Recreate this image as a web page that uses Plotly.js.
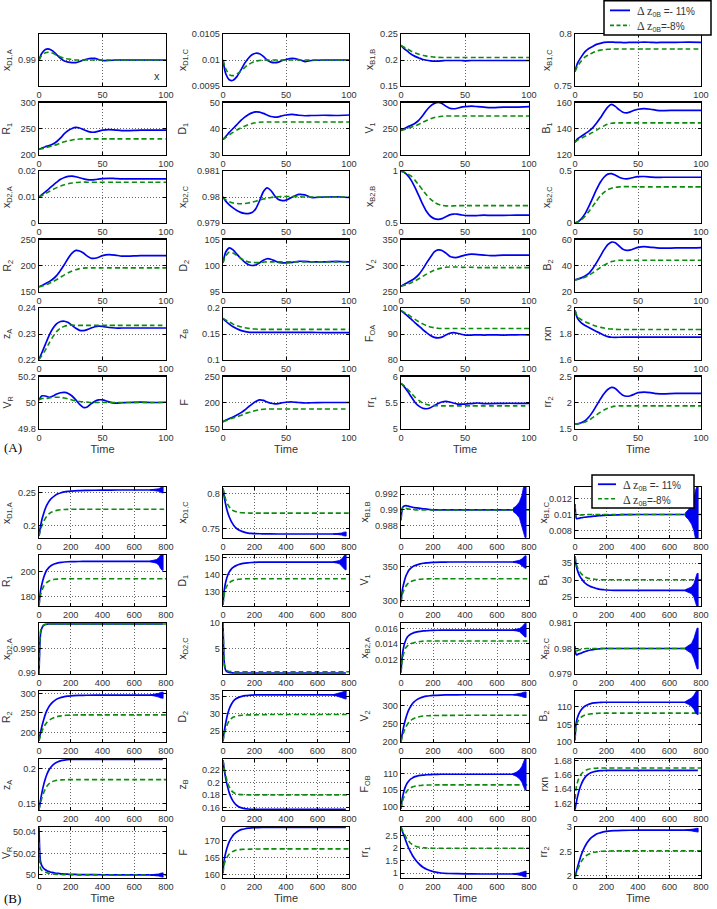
<!DOCTYPE html>
<html><head><meta charset="utf-8">
<script src="https://cdn.plot.ly/plotly-3.0.1.min.js"></script>
<style>html,body{margin:0;padding:0;background:#fff}#chart{width:717px;height:909px}</style>
</head><body><div id="chart"></div>
<script>
// ---------------- time axes ----------------
const tA = [0,2,5,8,11,14,17,20,23,26,29,32,35,38,41,44,47,50,55,60,65,70,80,90,100];
const tB = [0,5,10,20,30,40,50,60,70,80,100,120,140,160,180,200,250,300,400,500,600,700,780,800];
const tTail = [700,720,740,755,765,775,782];
const xTicksA = [0,50,100];
const xTicksB = [0,200,400,600,800];

// ---------------- panel A (dz0B = -11% blue, -8% green) ----------------
const aXD1A_b = [0.9900,0.9912,0.9920,0.9921,0.9917,0.9910,0.9903,0.9898,0.9896,0.9895,0.9895,0.9897,0.9900,0.9902,0.9903,0.9903,0.9901,0.9899,0.9899,0.9900,0.9900,0.9900,0.9900,0.9900,0.9900];
const aXD1A_g = [0.9900,0.9908,0.9914,0.9915,0.9913,0.9909,0.9906,0.9903,0.9902,0.9901,0.9900,0.9900,0.9900,0.9900,0.9900,0.9900,0.9900,0.9900,0.9900,0.9900,0.9900,0.9900,0.9900,0.9900,0.9900];
const aXD1C_b = [0.01,0.00975,0.00962,0.00961,0.00968,0.0098,0.00993,0.01003,0.0101,0.01013,0.01012,0.01007,0.01,0.00996,0.00995,0.00996,0.00999,0.01001,0.01003,0.01001,0.00997,0.00999,0.01,0.01,0.01];
const aXD1C_g = [0.01,0.00984,0.00972,0.0097,0.00973,0.00978,0.00985,0.00991,0.00995,0.00998,0.00999,0.01,0.01,0.01,0.01,0.01,0.01,0.01,0.01,0.01,0.01,0.01,0.01,0.01,0.01];
const aXB1B_b = [0.228,0.223,0.217,0.211,0.207,0.204,0.201,0.1995,0.1985,0.198,0.198,0.1985,0.199,0.199,0.199,0.199,0.199,0.1985,0.199,0.199,0.199,0.199,0.199,0.199,0.199];
const aXB1B_g = [0.228,0.225,0.221,0.217,0.214,0.211,0.209,0.2075,0.2065,0.2055,0.205,0.2048,0.2048,0.2048,0.2048,0.2048,0.2048,0.2048,0.2048,0.2048,0.2048,0.2048,0.2048,0.2048,0.2048];
const aXB1C_b = [0.764,0.772,0.778,0.783,0.786,0.788,0.79,0.791,0.792,0.7922,0.7922,0.792,0.792,0.7918,0.7918,0.792,0.792,0.792,0.7922,0.792,0.7918,0.792,0.792,0.7922,0.792];
const aXB1C_g = [0.764,0.769,0.774,0.778,0.78,0.782,0.7835,0.7845,0.785,0.7853,0.7855,0.7856,0.7856,0.7856,0.7856,0.7856,0.7856,0.7856,0.7856,0.7856,0.7856,0.7856,0.7856,0.7856,0.7856];
const aR1_b = [210,212,215,217,220,225,232,240,246,250,252,251,248,245,243,243,245,247,248,247,246,246,247,247,247];
const aR1_g = [210,211,213,215,217,219,222,224.5,226.5,228,229,229.7,230,230,230,230,230,230,230,230,230,230,230,230,230];
const aD1_b = [35.8,36.8,38.5,40,41.5,43,44.3,45.3,46,46.4,46.3,45.8,45.2,44.6,44.4,44.5,44.9,45.2,45.4,45.1,44.9,45,45.1,45,45.2];
const aD1_g = [35.8,36.5,37.5,38.5,39.4,40.2,40.9,41.5,41.9,42.2,42.4,42.5,42.5,42.5,42.5,42.5,42.5,42.5,42.5,42.5,42.5,42.5,42.5,42.5,42.5];
const aV1_b = [246,249,253,256,260,266,275,285,293,298,300,298,293,289,288,289,291,292,293,292,291,290,291,291,292];
const aV1_g = [246,247.5,250,252.5,255,258,262,265.5,268.5,271,272.5,273.5,274,274,274,274,274,274,274,274,274,274,274,274,274];
const aB1_b = [129.5,132,134,136,138,140.5,144,148,152.5,156.5,158.5,157,154.5,152.5,152,152.8,154,154.8,155.3,154.8,154,153.8,154,154,154];
const aB1_g = [129.5,131,132.5,134,135.5,137,138.7,140.5,142,143.3,144,144.3,144.3,144.3,144.3,144.3,144.3,144.3,144.3,144.3,144.3,144.3,144.3,144.3,144.3];
const aXD2A_b = [0.01,0.0108,0.012,0.0132,0.0145,0.0157,0.0168,0.0175,0.0179,0.018,0.0178,0.0174,0.017,0.0167,0.0166,0.0167,0.0169,0.0171,0.0172,0.0171,0.017,0.017,0.017,0.017,0.017];
const aXD2A_g = [0.01,0.0105,0.0113,0.0121,0.0129,0.0136,0.0142,0.0147,0.0151,0.0154,0.0156,0.0157,0.01575,0.0157,0.0157,0.0157,0.0157,0.0157,0.0157,0.0157,0.0157,0.0157,0.0157,0.0157,0.0157];
const aXD2C_b = [0.98,0.97985,0.9797,0.97958,0.97948,0.97941,0.97937,0.97936,0.9794,0.97955,0.97985,0.9802,0.98035,0.98025,0.98005,0.9799,0.97986,0.97988,0.98,0.9801,0.98008,0.97998,0.98,0.98001,0.97998];
const aXD2C_g = [0.98,0.9799,0.97982,0.97977,0.97975,0.97974,0.97975,0.97977,0.9798,0.97984,0.97988,0.97992,0.97995,0.97998,0.98,0.98001,0.98002,0.98002,0.98002,0.98001,0.98,0.98,0.98,0.98,0.98];
const aXB2B_b = [1,0.99,0.96,0.91,0.84,0.76,0.68,0.61,0.565,0.542,0.535,0.542,0.56,0.578,0.586,0.585,0.578,0.572,0.57,0.572,0.575,0.573,0.574,0.575,0.575];
const aXB2B_g = [1,0.99,0.975,0.95,0.91,0.865,0.815,0.77,0.73,0.7,0.68,0.67,0.665,0.663,0.665,0.667,0.667,0.667,0.667,0.667,0.667,0.667,0.667,0.667,0.667];
const aXB2C_b = [0,0.01,0.04,0.09,0.16,0.24,0.32,0.39,0.44,0.47,0.475,0.46,0.44,0.428,0.425,0.43,0.44,0.445,0.447,0.442,0.438,0.44,0.44,0.44,0.44];
const aXB2C_g = [0,0.008,0.03,0.065,0.11,0.16,0.21,0.26,0.295,0.32,0.335,0.343,0.347,0.349,0.35,0.349,0.348,0.347,0.347,0.347,0.347,0.347,0.347,0.347,0.347];
const aR2_b = [159,161,165,169,174,181,191,202,214,224,229,228,224,218,214,214,216,219,221,220,218,218,219,219,219];
const aR2_g = [159,160,162.5,165.5,169,173,177.5,182,186,189.5,192,194,195,195.5,195.5,195.5,195.5,195.5,195.5,195.5,195.5,195.5,195.5,195.5,195.5];
const aD2_b = [100.5,102.5,103.4,103,102.2,101.4,100.7,100.2,100,100.1,100.5,101,101.3,101.2,100.9,100.6,100.5,100.5,100.6,100.8,100.8,100.7,100.7,100.8,100.7];
const aD2_g = [100.5,101.8,102.6,102.4,101.9,101.4,101,100.7,100.6,100.55,100.6,100.65,100.7,100.7,100.7,100.7,100.7,100.7,100.7,100.7,100.7,100.7,100.7,100.7,100.7];
const aV2_b = [260,263,267,271,276,283,293,305,316,326,330,329,324,318,315.5,315.5,318,320,322,321,320,319,320,320,320];
const aV2_g = [260,261.5,264,267,270.5,274.5,279,283.5,287.5,291,293.5,295.5,296.5,297,297,297,296.5,296.5,296.5,296,296,296,296,296,296];
const aB2_b = [29,29.5,30.5,32,34,37.5,42,47,52,56,58,57.5,55,52.5,51.6,52,53,54,54.5,54,53.5,53.3,53.5,53.5,53.8];
const aB2_g = [29,29.3,30,31,32.5,34.3,36.3,38.3,40.2,41.8,43,43.7,44,44,44,44,44,44,44,44,44,44,44,44,44];
const aZA_b = [0.2203,0.2225,0.226,0.2295,0.2322,0.234,0.2348,0.2349,0.2344,0.2333,0.2322,0.2314,0.2313,0.2317,0.2323,0.2328,0.233,0.2329,0.2325,0.2323,0.2323,0.2323,0.2323,0.2323,0.2323];
const aZA_g = [0.2203,0.2215,0.2238,0.2265,0.229,0.231,0.2323,0.233,0.2333,0.2334,0.2333,0.2333,0.2333,0.2333,0.2333,0.2333,0.2333,0.2333,0.2333,0.2333,0.2333,0.2333,0.2333,0.2333,0.2333];
const aZB_b = [0.18,0.175,0.169,0.164,0.16,0.157,0.155,0.1535,0.153,0.153,0.153,0.153,0.153,0.153,0.153,0.153,0.153,0.153,0.153,0.153,0.153,0.153,0.1528,0.1525,0.1525];
const aZB_g = [0.18,0.177,0.173,0.169,0.166,0.164,0.162,0.1608,0.16,0.1595,0.159,0.1588,0.1588,0.1588,0.1588,0.1588,0.1588,0.1588,0.1588,0.1588,0.1588,0.1588,0.1588,0.1588,0.1588];
const aFOA_b = [99,98.2,97,95.7,94.3,93,91.7,90.5,89.4,88.7,88.5,88.8,89.6,90.3,90.5,90.3,89.9,89.6,89.6,89.7,89.6,89.7,89.6,89.7,89.7];
const aFOA_g = [99,98.5,97.6,96.6,95.6,94.7,93.9,93.2,92.7,92.4,92.2,92.1,92.1,92.1,92.1,92.1,92.1,92.1,92.1,92.1,92.1,92.1,92.1,92.1,92.1];
const aRXN_b = [1.98,1.92,1.885,1.865,1.85,1.835,1.82,1.805,1.79,1.78,1.775,1.774,1.775,1.776,1.776,1.776,1.776,1.776,1.776,1.776,1.776,1.776,1.776,1.776,1.776];
const aRXN_g = [1.98,1.93,1.91,1.895,1.882,1.87,1.86,1.852,1.846,1.841,1.838,1.836,1.835,1.835,1.835,1.835,1.835,1.835,1.835,1.835,1.835,1.835,1.835,1.835,1.835];
const aVR_b = [50.02,50.05,50.05,50.04,50.05,50.065,50.075,50.078,50.07,50.05,50.02,49.985,49.962,49.965,49.99,50.01,50.02,50.02,50.005,49.995,49.998,50,50.003,50,50.002];
const aVR_g = [50.02,50.03,50.03,50.035,50.04,50.04,50.04,50.035,50.028,50.02,50.013,50.008,50.005,50.003,50,50,50,50,50,50,50,50,50,50,50];
const aF_b = [163,166,169,172,176,180,185,191,197,202,205,204,201,198.5,197.5,198,199.5,200.5,201,200,199,199.5,200,200,200];
const aF_g = [163,165,168,170,172.5,175,178,180.5,182.5,184.5,186,187,187.5,187.5,187.5,187.5,187.5,187.5,187.5,187.5,187.5,187.5,187.5,187.5,187.5];
const aRR1_b = [5.87,5.82,5.72,5.61,5.5,5.43,5.39,5.38,5.4,5.44,5.48,5.51,5.52,5.51,5.49,5.47,5.47,5.47,5.48,5.49,5.48,5.48,5.485,5.485,5.485];
const aRR1_g = [5.87,5.83,5.76,5.68,5.6,5.54,5.49,5.46,5.445,5.44,5.437,5.435,5.435,5.435,5.435,5.435,5.435,5.435,5.435,5.435,5.435,5.435,5.435,5.435,5.435];
const aRR2_b = [1.585,1.59,1.61,1.65,1.72,1.82,1.94,2.06,2.17,2.25,2.29,2.27,2.2,2.14,2.12,2.13,2.16,2.19,2.2,2.19,2.17,2.165,2.175,2.175,2.175];
const aRR2_g = [1.585,1.588,1.6,1.625,1.66,1.71,1.76,1.81,1.855,1.89,1.915,1.93,1.935,1.935,1.935,1.935,1.935,1.935,1.935,1.935,1.935,1.935,1.935,1.935,1.935];

// ---------------- panel B ----------------
const bXD1A_b = [0.185,0.193,0.2,0.211,0.219,0.226,0.2315,0.2355,0.2388,0.2413,0.2452,0.2478,0.2495,0.2507,0.2515,0.252,0.2527,0.253,0.2533,0.2535,0.2535,0.2535,0.2535,null];
const bXD1A_g = [0.185,0.19,0.1945,0.2015,0.207,0.2113,0.2148,0.2174,0.2193,0.2207,0.2225,0.2235,0.2241,0.2245,0.2247,0.2248,0.2248,0.2248,0.2248,0.2248,0.2248,0.2248,0.2248,0.2248];
const bXD1C_b = [0.808,0.8,0.793,0.782,0.7735,0.767,0.762,0.758,0.7545,0.752,0.7485,0.7465,0.745,0.744,0.7435,0.7432,0.743,0.7428,0.7427,0.7427,0.7427,0.7427,0.7427,null];
const bXD1C_g = [0.808,0.803,0.798,0.79,0.785,0.7815,0.779,0.777,0.7757,0.7748,0.7738,0.7732,0.7729,0.7727,0.7726,0.7726,0.7726,0.7726,0.7726,0.7726,0.7726,0.7726,0.7726,0.7726];
const bXB1B_b = [0.9887,0.9898,0.9903,0.9905,0.99055,0.9905,0.99045,0.9904,0.99035,0.9903,0.99025,0.9902,0.99015,0.9901,0.99005,0.99,0.99,0.99,0.99,0.99,0.99,0.99,0.99,null];
const bXB1B_g = [0.9887,0.99,0.9903,0.99025,0.9902,0.99015,0.9901,0.99008,0.99005,0.99003,0.99,0.99,0.99,0.99,0.99,0.99,0.99,0.99,0.99,0.99,0.99,0.99,0.99,0.99];
const bXB1C_b = [0.0113,0.0098,0.00948,0.00952,0.00956,0.0096,0.00963,0.00966,0.00968,0.0097,0.00975,0.00979,0.00983,0.00986,0.00989,0.00991,0.00995,0.00998,0.01,0.01,0.01,0.01,0.01,null];
const bXB1C_g = [0.0113,0.0098,0.00985,0.0099,0.00993,0.00995,0.00996,0.00997,0.00998,0.00999,0.01,0.01,0.01,0.01,0.01,0.01,0.01,0.01,0.01,0.01,0.01,0.01,0.01,0.01];
const bR1_b = [173,180,185,191,195.5,199,201.5,203,204.3,205.2,206.3,207,207.4,207.7,207.9,208,208.1,208.2,208.2,208.2,208.2,208.2,208.2,null];
const bR1_g = [173,178,181.5,185.5,188.5,190.3,191.5,192.4,193,193.4,193.9,194.1,194.3,194.4,194.4,194.4,194.4,194.4,194.4,194.4,194.4,194.4,194.4,194.4];
const bD1_b = [122,128,132,136.5,139.5,141.5,142.8,143.8,144.5,145,145.8,146.3,146.6,146.8,147,147.1,147.2,147.2,147.2,147.2,147.2,147.2,147.2,null];
const bD1_g = [122,126.5,129.5,132.3,134,135,135.8,136.3,136.6,136.9,137.1,137.3,137.4,137.4,137.4,137.4,137.4,137.4,137.4,137.4,137.4,137.4,137.4,137.4];
const bV1_b = [298,310,318,328,336,341,345,347.5,349.5,351,352.7,354,355,355.6,356,356.3,356.6,356.8,356.8,356.8,356.8,356.8,356.8,null];
const bV1_g = [298,306,311,317,321.5,324.5,326.5,328,329.2,330,331,331.7,332,332.2,332.3,332.4,332.4,332.4,332.4,332.4,332.4,332.4,332.4,332.4];
const bB1_b = [37,35,33.8,32.3,31.2,30.5,29.9,29.3,28.9,28.6,28.1,27.8,27.5,27.3,27.2,27.1,27,27,27,27,27,27,27,null];
const bB1_g = [37,35.5,34.5,33.3,32.5,31.9,31.4,31,30.8,30.6,30.4,30.3,30.2,30.15,30.1,30.1,30.1,30.1,30.1,30.1,30.1,30.1,30.1,30.1];
const bXD2A_b = [0.9899,0.9955,0.998,0.9992,0.9996,0.9998,0.99985,0.9999,0.9999,0.9999,0.9999,0.9999,0.9999,0.9999,0.9999,0.9999,0.9999,0.9999,0.9999,0.9999,0.9999,0.9999,0.9999,null];
const bXD2A_g = [0.9899,0.9962,0.9985,0.9994,0.9997,0.99985,0.9999,0.9999,0.9999,0.9999,0.9999,0.9999,0.9999,0.9999,0.9999,0.9999,0.9999,0.9999,0.9999,0.9999,0.9999,0.9999,0.9999,0.9999];
const bXD2C_b = [10,4,1.5,0.6,0.4,0.3,0.25,0.22,0.2,0.2,0.2,0.2,0.2,0.2,0.2,0.2,0.2,0.2,0.2,0.2,0.2,0.2,0.2,null];
const bXD2C_g = [10,4.5,1.8,0.8,0.6,0.5,0.47,0.45,0.45,0.45,0.45,0.45,0.45,0.45,0.45,0.45,0.45,0.45,0.45,0.45,0.45,0.45,0.45,0.45];
const bXB2A_b = [0.0103,0.0118,0.0128,0.0139,0.0145,0.0149,0.0151,0.01525,0.01535,0.01545,0.01555,0.01562,0.01567,0.0157,0.01573,0.01575,0.01577,0.01578,0.01578,0.01578,0.01578,0.01578,0.01578,null];
const bXB2A_g = [0.0103,0.0114,0.0122,0.013,0.0135,0.01375,0.0139,0.014,0.01408,0.01415,0.01425,0.0143,0.01435,0.01437,0.01438,0.01438,0.01438,0.01438,0.01438,0.01438,0.01438,0.01438,0.01438,0.01438];
const bXB2C_b = [0.9801,0.9798,0.97975,0.97978,0.9798,0.97982,0.97985,0.97987,0.97989,0.97991,0.97994,0.97996,0.97998,0.97999,0.98,0.98,0.98,0.98,0.98,0.98,0.98,0.98,0.98,null];
const bXB2C_g = [0.9801,0.97985,0.9799,0.97993,0.97995,0.97997,0.97998,0.97999,0.98,0.98,0.98,0.98,0.98,0.98,0.98,0.98,0.98,0.98,0.98,0.98,0.98,0.98,0.98,0.98];
const bR2_b = [178,190,200,218,233,246,256,264,270,275,282,286.5,289.5,291.5,292.8,293.7,294.7,295.1,295.3,295.3,295.3,295.3,295.3,null];
const bR2_g = [178,186,193,204,213,220,225.5,229.5,232.5,235,238.5,240.8,242.2,243.2,243.8,244.2,244.6,244.8,244.8,244.8,244.8,244.8,244.8,244.8];
const bD2_b = [22,24,25.5,28,30,31.5,32.5,33.3,33.9,34.3,34.8,35.1,35.3,35.4,35.45,35.5,35.5,35.5,35.5,35.5,35.5,35.5,35.5,null];
const bD2_g = [22,23.5,24.5,26,27.2,28,28.5,28.9,29.1,29.3,29.5,29.6,29.65,29.7,29.7,29.7,29.75,29.8,29.8,29.8,29.8,29.8,29.8,29.8];
const bV2_b = [200,214,227,248,265,279,290,298,305,310,317,321.5,324.5,326.5,327.8,328.6,329.7,330.2,330.5,330.5,330.5,330.5,330.5,null];
const bV2_g = [200,209,217,230,240,248,254,258.5,262,264.5,268,270,271.3,272,272.4,272.7,273,273.2,273.3,273.3,273.3,273.3,273.3,273.3];
const bB2_b = [100.5,104.5,106,107.5,108.5,109.2,109.7,110.1,110.4,110.6,110.9,111.1,111.2,111.25,111.3,111.3,111.3,111.3,111.3,111.3,111.3,111.3,111.3,null];
const bB2_g = [100.5,103.5,105,106,106.7,107.1,107.4,107.6,107.8,107.9,108,108.1,108.15,108.2,108.2,108.2,108.2,108.2,108.2,108.2,108.2,108.2,108.2,108.2];
const bZA_b = [0.141,0.148,0.155,0.167,0.177,0.185,0.1915,0.1965,0.2,0.203,0.207,0.2095,0.211,0.2118,0.2123,0.2126,0.2128,0.2129,0.2129,0.2129,0.2129,0.2129,0.2129,null];
const bZA_g = [0.141,0.146,0.151,0.159,0.1655,0.1705,0.1745,0.1773,0.1793,0.1807,0.1823,0.1831,0.1835,0.1837,0.1838,0.1838,0.1838,0.1838,0.1838,0.1838,0.1838,0.1838,0.1838,0.1838];
const bZB_b = [0.236,0.226,0.217,0.203,0.192,0.183,0.1765,0.1715,0.1677,0.1648,0.161,0.159,0.1578,0.1572,0.1568,0.1566,0.1565,0.1565,0.1565,0.1565,0.1565,0.1565,0.1565,null];
const bZB_g = [0.236,0.227,0.22,0.208,0.199,0.1925,0.188,0.1852,0.1833,0.182,0.1808,0.1803,0.1801,0.18,0.18,0.18,0.18,0.18,0.18,0.18,0.18,0.18,0.18,0.18];
const bFOB_b = [99.5,101.5,103,105,106.3,107.2,107.8,108.3,108.6,108.9,109.2,109.4,109.5,109.6,109.65,109.7,109.75,109.75,109.75,109.75,109.75,109.75,109.75,null];
const bFOB_g = [99.5,100.8,101.8,103.2,104.2,104.9,105.4,105.7,105.95,106.1,106.3,106.4,106.5,106.52,106.55,106.55,106.6,106.6,106.6,106.6,106.6,106.6,106.6,106.6];
const bRXN_b = [1.611,1.617,1.623,1.633,1.641,1.647,1.652,1.6555,1.6585,1.6605,1.6632,1.6648,1.6657,1.6662,1.6665,1.6667,1.6668,1.6668,1.6668,1.6668,1.6668,1.6668,1.6668,null];
const bRXN_g = [1.626,1.638,1.645,1.653,1.658,1.6615,1.664,1.6658,1.667,1.6679,1.6689,1.6695,1.6698,1.67,1.67,1.6701,1.6701,1.6701,1.6701,1.6701,1.6701,1.6701,1.6701,1.6701];
const bVR_b = [50.044,50.02,50.012,50.008,50.006,50.0048,50.004,50.0033,50.0028,50.0024,50.0018,50.0014,50.0011,50.0009,50.0007,50.0006,50.0004,50.0003,50.0002,50.0001,50.0001,50,50,null];
const bVR_g = [50.03,50.012,50.006,50.004,50.003,50.0025,50.002,50.0016,50.0013,50.001,50.0007,50.0005,50.0004,50.0003,50.0002,50.0002,50.0001,50.0001,50,50,50,50,50,50];
const bF_b = [160.5,163.5,165,167,168.5,169.7,170.6,171.3,171.9,172.3,172.9,173.3,173.5,173.65,173.75,173.8,173.85,173.9,173.9,173.9,173.9,173.9,173.9,null];
const bF_g = [160.5,162.5,163.5,164.7,165.5,166.1,166.5,166.8,167,167.2,167.35,167.45,167.5,167.52,167.55,167.55,167.6,167.6,167.6,167.6,167.6,167.6,167.6,167.6];
const bRR1_b = [2.85,2.75,2.65,2.48,2.3,2.13,1.98,1.85,1.73,1.63,1.46,1.33,1.23,1.16,1.11,1.07,1.01,0.99,0.975,0.97,0.97,0.97,0.97,null];
const bRR1_g = [2.85,2.78,2.7,2.57,2.45,2.35,2.27,2.2,2.15,2.11,2.06,2.035,2.02,2.01,2.005,2,2,2,2,2,2,2,2,2];
const bRR2_b = [1.97,2.03,2.1,2.22,2.33,2.43,2.51,2.58,2.64,2.69,2.77,2.82,2.86,2.88,2.9,2.91,2.925,2.93,2.935,2.935,2.935,2.935,2.935,null];
const bRR2_g = [1.97,2.01,2.06,2.15,2.23,2.29,2.34,2.38,2.41,2.43,2.46,2.48,2.49,2.5,2.503,2.505,2.51,2.51,2.51,2.51,2.51,2.51,2.51,2.51];

// half-widths of the late blue oscillation envelope (panel B), at tTail
const tailXD1A = [0.0002,0.0005,0.001,0.002,0.0035,0.0045,0.0045];
const tailXD1C = [0.0002,0.0004,0.0008,0.0015,0.0025,0.003,0.003];
const tailXB1B = [0.0002,0.0005,0.001,0.0018,0.0028,0.0035,0.0035];
const tailXB1C = [0.0002,0.0006,0.0012,0.002,0.003,0.0035,0.0035];
const tailR1 = [0.3,0.8,1.5,3,5.5,7,7];
const tailD1 = [0.2,0.5,1,2,3.5,4.5,4.5];
const tailV1 = [0.5,1.2,2.5,4.5,7,9,9];
const tailB1 = [0.2,0.5,1,2,3.5,5,5];
const tailXB2A = [0.00005,0.0001,0.0002,0.0004,0.0007,0.0009,0.0009];
const tailXB2C = [0.00003,0.0001,0.0002,0.0004,0.0006,0.0008,0.0008];
const tailR2 = [0.5,1.5,3,5,7,8,8];
const tailD2 = [0.1,0.3,0.5,0.8,1,1.2,1.2];
const tailV2 = [0.5,1.5,3,5,7,8,8];
const tailB2 = [0.2,0.6,1.2,2,3,3.5,3.5];
const tailFOB = [0.2,0.6,1.3,2.3,3.5,4.7,4.7];
const tailVR = [0.0001,0.0003,0.0006,0.001,0.0015,0.002,0.002];
const tailRR1 = [0.01,0.02,0.04,0.07,0.1,0.12,0.12];
const tailRR2 = [0.003,0.008,0.015,0.025,0.035,0.04,0.04];

// ---------------- subplot tables: label, blue, green, y-range, y-ticks, tail ----------------
const specA = [
 ['x<sub>D1,A</sub>', aXD1A_b, aXD1A_g, [0.985,0.995], [0.99]],
 ['x<sub>D1,C</sub>', aXD1C_b, aXD1C_g, [0.0095,0.0105], [0.0095,0.01,0.0105]],
 ['x<sub>B1,B</sub>', aXB1B_b, aXB1B_g, [0.15,0.25], [0.15,0.2,0.25]],
 ['x<sub>B1,C</sub>', aXB1C_b, aXB1C_g, [0.75,0.8], [0.75,0.8]],
 ['R<sub>1</sub>', aR1_b, aR1_g, [200,300], [200,250,300]],
 ['D<sub>1</sub>', aD1_b, aD1_g, [30,50], [30,40,50]],
 ['V<sub>1</sub>', aV1_b, aV1_g, [200,300], [200,250,300]],
 ['B<sub>1</sub>', aB1_b, aB1_g, [120,160], [120,140,160]],
 ['x<sub>D2,A</sub>', aXD2A_b, aXD2A_g, [0,0.02], [0,0.01,0.02]],
 ['x<sub>D2,C</sub>', aXD2C_b, aXD2C_g, [0.979,0.981], [0.979,0.98,0.981]],
 ['x<sub>B2,B</sub>', aXB2B_b, aXB2B_g, [0.5,1], [0.5,1]],
 ['x<sub>B2,C</sub>', aXB2C_b, aXB2C_g, [0,0.5], [0,0.5]],
 ['R<sub>2</sub>', aR2_b, aR2_g, [150,250], [150,200,250]],
 ['D<sub>2</sub>', aD2_b, aD2_g, [95,105], [95,100,105]],
 ['V<sub>2</sub>', aV2_b, aV2_g, [250,350], [250,300,350]],
 ['B<sub>2</sub>', aB2_b, aB2_g, [20,60], [20,40,60]],
 ['z<sub>A</sub>', aZA_b, aZA_g, [0.22,0.24], [0.22,0.23,0.24]],
 ['z<sub>B</sub>', aZB_b, aZB_g, [0.1,0.2], [0.1,0.15,0.2]],
 ['F<sub>OA</sub>', aFOA_b, aFOA_g, [80,100], [80,90,100]],
 ['rxn', aRXN_b, aRXN_g, [1.6,2], [1.6,1.8,2]],
 ['V<sub>R</sub>', aVR_b, aVR_g, [49.8,50.2], [49.8,50,50.2]],
 ['F', aF_b, aF_g, [150,250], [150,200,250]],
 ['rr<sub>1</sub>', aRR1_b, aRR1_g, [5,6], [5,5.5,6]],
 ['rr<sub>2</sub>', aRR2_b, aRR2_g, [1.5,2.5], [1.5,2,2.5]]
];
const specB = [
 ['x<sub>D1,A</sub>', bXD1A_b, bXD1A_g, [0.182,0.258], [0.2,0.25], tailXD1A],
 ['x<sub>D1,C</sub>', bXD1C_b, bXD1C_g, [0.737,0.81], [0.75,0.8], tailXD1C],
 ['x<sub>B1,B</sub>', bXB1B_b, bXB1B_g, [0.98645,0.9929], [0.988,0.99,0.992], tailXB1B],
 ['x<sub>B1,C</sub>', bXB1C_b, bXB1C_g, [0.0071,0.0134], [0.008,0.01,0.012], tailXB1C],
 ['R<sub>1</sub>', bR1_b, bR1_g, [172.6,213.3], [180,200], tailR1],
 ['D<sub>1</sub>', bD1_b, bD1_g, [121.4,151.4], [130,140,150], tailD1],
 ['V<sub>1</sub>', bV1_b, bV1_g, [292.7,367], [300,350], tailV1],
 ['B<sub>1</sub>', bB1_b, bB1_g, [22.4,37.4], [25,30,35], tailB1],
 ['x<sub>D2,A</sub>', bXD2A_b, bXD2A_g, [0.98985,1.0001], [0.99,0.995], null],
 ['x<sub>D2,C</sub>', bXD2C_b, bXD2C_g, [0,10], [5,10], null],
 ['x<sub>B2,A</sub>', bXB2A_b, bXB2A_g, [0.0101,0.0167], [0.012,0.014,0.016], tailXB2A],
 ['x<sub>B2,C</sub>', bXB2C_b, bXB2C_g, [0.979,0.981], [0.979,0.98,0.981], tailXB2C],
 ['R<sub>2</sub>', bR2_b, bR2_g, [175,306], [200,250,300], tailR2],
 ['D<sub>2</sub>', bD2_b, bD2_g, [21.8,36.65], [25,30,35], tailD2],
 ['V<sub>2</sub>', bV2_b, bV2_g, [199,341], [200,250,300], tailV2],
 ['B<sub>2</sub>', bB2_b, bB2_g, [100,114.5], [100,105,110], tailB2],
 ['z<sub>A</sub>', bZA_b, bZA_g, [0.1404,0.2133], [0.15,0.2], null],
 ['z<sub>B</sub>', bZB_b, bZB_g, [0.1556,0.2377], [0.16,0.18,0.2,0.22], null],
 ['F<sub>OB</sub>', bFOB_b, bFOB_g, [99.1,114.3], [100,105,110], tailFOB],
 ['rxn', bRXN_b, bRXN_g, [1.6105,1.6828], [1.62,1.64,1.66,1.68], null],
 ['V<sub>R</sub>', bVR_b, bVR_g, [49.9972,50.0443], [50,50.02,50.04], tailVR],
 ['F', bF_b, bF_g, [159.1,174], [160,165,170], null],
 ['rr<sub>1</sub>', bRR1_b, bRR1_g, [0.81,2.85], [1,1.5,2,2.5], tailRR1],
 ['rr<sub>2</sub>', bRR2_b, bRR2_g, [1.953,3.0], [2,2.5,3], tailRR2]
];

// ---------------- drawing ----------------
const W = 717, H = 909;
const BLUE = '#0000f0', GREEN = '#0c8c0c';
const SANS = 'Liberation Sans, Arial, sans-serif';
const colPx = [[39,166],[223,349],[401,529],[575,701]];
const labelXA = [7,183,370,547];
const labelXB = [6.5,182,364,543];
const tickFont = {family:SANS, size:9.2, color:'#333'};
const labFont = {family:SANS, size:10.5, color:'#333'};
const axisStyle = {showline:true, mirror:'ticks', linecolor:'#000', linewidth:1.2,
  ticks:'inside', ticklen:3, tickwidth:1, tickcolor:'#000',
  showgrid:true, gridcolor:'#444', griddash:'1px,2px', gridwidth:0.8,
  zeroline:false, tickfont:tickFont, automargin:false, fixedrange:true};

const traces = [];
const shapes = [];
const annotations = [];
const layout = {width:W, height:H, margin:{l:0,r:0,t:0,b:0}, paper_bgcolor:'#fff', plot_bgcolor:'#fff',
  showlegend:false, hovermode:false};

function fmt(v){ return String(v); }
const px = v => v/W, py = v => 1 - v/H;

function addPanel(spec, t, xr, xt, top0, pitch, rowH, kOff, labelX){
  spec.forEach((s,i)=>{
    const r = Math.floor(i/4), c = i%4, k = kOff+i+1;
    const top = top0 + pitch*r, bot = top + rowH;
    const xs = k===1 ? '' : String(k);
    layout['xaxis'+xs] = Object.assign({}, axisStyle, {
      domain:[px(colPx[c][0]), px(colPx[c][1])], anchor:'y'+xs, range:xr,
      tickmode:'array', tickvals:xt, ticktext:xt.map(fmt),
      title: r===5 ? {text:'Time', font:{family:SANS, size:11, color:'#333'}, standoff:3} : {text:''}
    });
    layout['yaxis'+xs] = Object.assign({}, axisStyle, {
      domain:[py(bot), py(top)], anchor:'x'+xs, range:s[3],
      tickmode:'array', tickvals:s[4], ticktext:s[4].map(fmt), title:{text:''}
    });
    annotations.push({text:s[0], textangle:-90, xref:'paper', yref:'paper',
      x:px(labelX[c]), y:py((top+bot)/2), xanchor:'center', yanchor:'middle',
      showarrow:false, font:labFont});
    traces.push({type:'scatter', mode:'lines', x:t, y:s[1], xaxis:'x'+xs, yaxis:'y'+xs,
      line:{color:BLUE, width:1.7, shape:'spline', smoothing:0.6}, name:'Δz0B=-11%'});
    traces.push({type:'scatter', mode:'lines', x:t, y:s[2], xaxis:'x'+xs, yaxis:'y'+xs,
      line:{color:GREEN, width:1.6, dash:'5px,3px', shape:'spline', smoothing:0.6}, name:'Δz0B=-8%'});
    if (s[5]) {
      const center = s[1][22];
      const up = s[5].map(h=>center+h), lo = s[5].map(h=>center-h);
      traces.push({type:'scatter', mode:'lines', x:tTail.concat(tTail.slice().reverse()),
        y:up.concat(lo.slice().reverse()), xaxis:'x'+xs, yaxis:'y'+xs,
        fill:'toself', fillcolor:BLUE, line:{color:BLUE, width:0.8}});
    }
  });
}
addPanel(specA, tA, [0,100], xTicksA, 34, 68.5, 52, 0, labelXA);
addPanel(specB, tB, [0,800], xTicksB, 487, 68, 51, 24, labelXB);

// legend boxes (one per panel)
const legNames = ['<span style="font-family:\'Liberation Serif\';font-size:12px">Δ z</span><sub>0B</sub> =- 11%',
                  '<span style="font-family:\'Liberation Serif\';font-size:12px">Δ z</span><sub>0B</sub>=-8%'];
function addLegend(x0, y0, x1, y1, lineLen){
  shapes.push({type:'rect', xref:'paper', yref:'paper', x0:px(x0), x1:px(x1), y0:py(y0), y1:py(y1),
    line:{color:'#000', width:1.5}, fillcolor:'#fff', layer:'above'});
  const rows = [y0 + (y1-y0)*0.28, y0 + (y1-y0)*0.72];
  const styles = [{color:BLUE, width:1.8, dash:'solid'}, {color:GREEN, width:1.6, dash:'4px,2.5px'}];
  rows.forEach((yy,j)=>{
    shapes.push({type:'line', xref:'paper', yref:'paper', x0:px(x0+6), x1:px(x0+6+lineLen), y0:py(yy), y1:py(yy),
      line:styles[j], layer:'above'});
    annotations.push({text:legNames[j], xref:'paper', yref:'paper', x:px(x0+11+lineLen), y:py(yy+1),
      xanchor:'left', yanchor:'middle', showarrow:false, font:{family:SANS, size:10, color:'#333'}});
  });
}
addLegend(604, 0.8, 711, 35, 20);
addLegend(592, 475, 694, 508, 18);

annotations.push({text:'(A)', xref:'paper', yref:'paper', x:px(2), y:py(447), xanchor:'left', yanchor:'middle',
  showarrow:false, font:{family:'Liberation Serif', size:13, color:'#000'}});
annotations.push({text:'(B)', xref:'paper', yref:'paper', x:px(2), y:py(898), xanchor:'left', yanchor:'middle',
  showarrow:false, font:{family:'Liberation Serif', size:13, color:'#000'}});
annotations.push({text:'x', xref:'paper', yref:'paper', x:px(157), y:py(76), xanchor:'center', yanchor:'middle',
  showarrow:false, font:{family:SANS, size:11, color:'#333'}});

layout.shapes = shapes;
layout.annotations = annotations;
Plotly.newPlot('chart', traces, layout, {staticPlot:true, displayModeBar:false});
</script>
</body></html>
